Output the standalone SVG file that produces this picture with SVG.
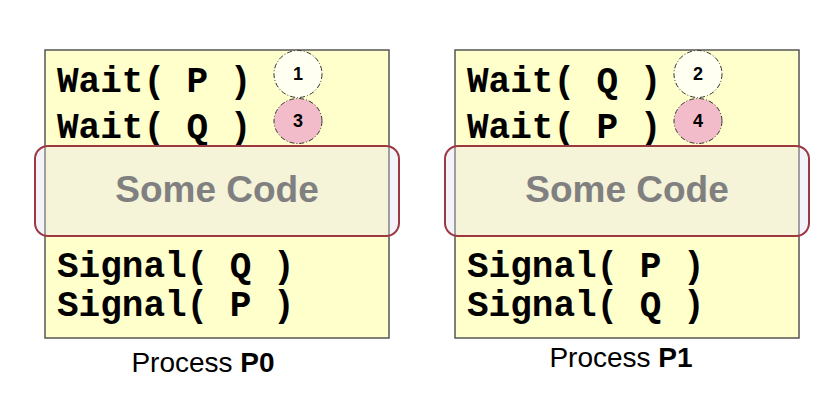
<svg xmlns="http://www.w3.org/2000/svg" width="840" height="404" viewBox="0 0 840 404">
<style>
.box{fill:#ffffcc;stroke:#555;stroke-width:1.5}
.code{font-family:"Liberation Mono","Courier New",monospace;font-weight:bold;font-size:36px;fill:#000}
.crit{fill:rgb(225,219,240);fill-opacity:0.34;stroke:#9b3842;stroke-width:2}
.critT{font-family:"Liberation Sans",Arial,sans-serif;font-weight:bold;font-size:37px;fill:#808080;text-anchor:middle}
.step{stroke:#333;stroke-width:1;stroke-dasharray:5 2 1 2}
.s1{fill:#fffff2}
.s2{fill:#f2bcca}
.num{font-family:"Liberation Sans",Arial,sans-serif;font-weight:bold;font-size:18px;fill:#000;text-anchor:middle}
.lbl{font-family:"Liberation Sans",Arial,sans-serif;font-size:28px;fill:#000;text-anchor:middle}
</style>
<rect width="840" height="404" fill="#fff"/>
<g id="process-p0">
<rect class="box" x="45" y="50" width="344" height="288"/>
<text class="code" x="57" y="92">Wait( P )</text>
<text class="code" x="57" y="138">Wait( Q )</text>
<ellipse class="step s1" cx="298" cy="74" rx="24" ry="23.5"/>
<text class="num" x="298" y="80">1</text>
<ellipse class="step s2" cx="298" cy="121" rx="24" ry="22.5"/>
<text class="num" x="298" y="127">3</text>
<rect class="crit" x="35" y="146" width="364" height="90" rx="13"/>
<text class="critT" x="217" y="202">Some Code</text>
<text class="code" x="57" y="277">Signal( Q )</text>
<text class="code" x="57" y="316">Signal( P )</text>
<text class="lbl" x="203" y="372">Process <tspan font-weight="bold">P0</tspan></text>
</g>
<g id="process-p1">
<rect class="box" x="455" y="50" width="344" height="288"/>
<text class="code" x="467" y="92">Wait( Q )</text>
<text class="code" x="467" y="138">Wait( P )</text>
<ellipse class="step s1" cx="698" cy="74" rx="24" ry="23.5"/>
<text class="num" x="698" y="80">2</text>
<ellipse class="step s2" cx="698" cy="121" rx="24" ry="22.5"/>
<text class="num" x="698" y="127">4</text>
<rect class="crit" x="445" y="146" width="364" height="90" rx="13"/>
<text class="critT" x="627" y="202">Some Code</text>
<text class="code" x="467" y="277">Signal( P )</text>
<text class="code" x="467" y="316">Signal( Q )</text>
<text class="lbl" x="621" y="367">Process <tspan font-weight="bold">P1</tspan></text>
</g>
<g id="connectors"/>
</svg>
